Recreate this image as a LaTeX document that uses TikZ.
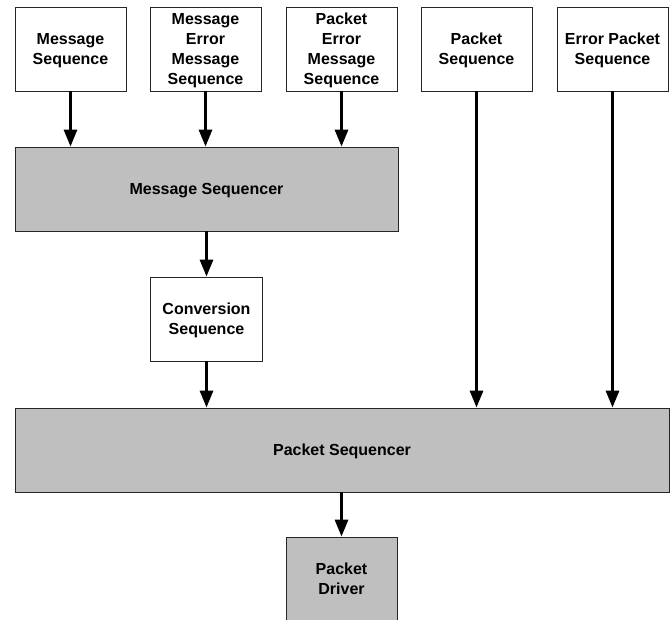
\documentclass[tikz,border=0pt]{standalone}
\usepackage{fontspec}
\setmainfont{Liberation Sans}
\usetikzlibrary{arrows.meta}
\usetikzlibrary{positioning}
\tikzset{
  blk/.style={draw=black!85, line width=0.8pt, fill=white, align=center,
    font=\bfseries\fontsize{16}{20}\selectfont, inner sep=0pt, text depth=0pt,
    minimum height=84pt},
  seq/.style={blk, minimum width=111pt},
  sqr/.style={blk, fill=black!25},
  flow/.style={line width=3pt, -{Triangle[length=17pt,width=13pt]}}
}

\begin{document}
\begin{tikzpicture}[x=1pt,y=-1pt]
  \useasboundingbox (0,0) rectangle (671,620);
  \node[seq] (ms) at (70.5,49) {Message\\Sequence};
  \node[seq] (mes) at (205.5,49) {Message\\Error\\Message\\Sequence};
  \node[seq] (pes) at (341.5,49) {Packet\\Error\\Message\\Sequence};
  \node[seq] (ps) at (476.5,49) {Packet\\Sequence};
  \node[seq] (eps) at (612.5,49) {Error Packet\\Sequence};
  \node[sqr, minimum width=383pt] (msq) at (206.5,189) {Message Sequencer};
  \node[seq, minimum width=112pt] (cs) at (206.5,319) {Conversion\\Sequence};
  \node[sqr, minimum width=654pt] (psq) at (342,450) {Packet Sequencer};
  \node[sqr, minimum width=111pt] (pd) at (341.5,579) {Packet\\Driver};
  \draw[flow] (ms) -- (ms |- msq.north);
  \draw[flow] (mes) -- (mes |- msq.north);
  \draw[flow] (pes) -- (pes |- msq.north);
  \draw[flow] (msq) -- (cs);
  \draw[flow] (cs) -- (cs |- psq.north);
  \draw[flow] (ps) -- (ps |- psq.north);
  \draw[flow] (eps) -- (eps |- psq.north);
  \draw[flow] (pd |- psq.south) -- (pd);
\end{tikzpicture}
\end{document}
